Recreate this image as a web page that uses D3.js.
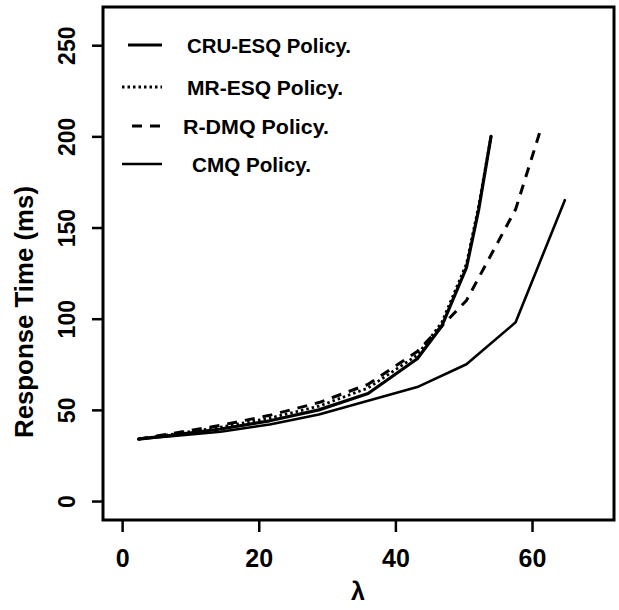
<!DOCTYPE html>
<html><head><meta charset="utf-8">
<script src="https://cdn.jsdelivr.net/npm/d3@7"></script>
<style>body{margin:0;background:#fff}svg{display:block}</style>
</head><body>
<script>
const seriesNames = ["CRU-ESQ Policy.", "MR-ESQ Policy.", "R-DMQ Policy.", "CMQ Policy."];
const cruX = [2.4, 7.2, 14.4, 21.6, 28.8, 36, 43.2, 46.8, 50.4, 52.2, 54];
const cruY = [34, 36, 39.5, 44, 50, 59, 78, 96, 128, 160, 200];
const mrX  = [2.4, 7.2, 14.4, 21.6, 28.8, 36, 43.2, 46.8, 50.4, 52.2, 54];
const mrY  = [34, 36.5, 40.5, 45.5, 52, 62, 80, 98, 130, 162, 200];
const rdX  = [2.4, 7.2, 14.4, 21.6, 28.8, 36, 43.2, 50.4, 57.6, 61.2];
const rdY  = [34, 37, 41.5, 47, 54, 64, 82, 110, 160, 203];
const cmqX = [2.4, 7.2, 14.4, 21.6, 28.8, 36, 43.2, 50.4, 57.6, 64.8];
const cmqY = [34, 35.5, 38, 42, 47.5, 55, 62.5, 75, 98, 165];
const xTicks = [0, 20, 40, 60];
const yTicks = [0, 50, 100, 150, 200, 250];

const W = 619, H = 610;
const svg = d3.select("body").append("svg").attr("width", W).attr("height", H);
const x = d3.scaleLinear().domain([-2.8, 72]).range([103, 614]);
const y = d3.scaleLinear().domain([-10.4, 270.4]).range([520, 8]);

const styles = [
  {w: 3.2, dash: null, cap: "round"},
  {w: 2.8, dash: "2.5 3", cap: "butt"},
  {w: 3.0, dash: "10 8", cap: "butt"},
  {w: 2.6, dash: null, cap: "round"}
];
const series = [[cruX, cruY], [mrX, mrY], [rdX, rdY], [cmqX, cmqY]];
const line = d3.line().x(d => x(d[0])).y(d => y(d[1]));

series.forEach((s, i) => {
  const pts = s[0].map((v, j) => [v, s[1][j]]);
  svg.append("path").attr("d", line(pts)).attr("fill", "none")
    .attr("stroke", "#000").attr("stroke-width", styles[i].w)
    .attr("stroke-dasharray", styles[i].dash).attr("stroke-linecap", styles[i].cap)
    .attr("stroke-linejoin", "round");
});

// frame
svg.append("rect").attr("x", 103).attr("y", 7).attr("width", 511).attr("height", 513)
  .attr("fill", "none").attr("stroke", "#000").attr("stroke-width", 3);

const font = "'Liberation Sans', Arial, sans-serif";
// x axis
const xa = svg.append("g").attr("transform", "translate(0,520)")
  .call(d3.axisBottom(x).tickValues(xTicks).tickSize(12).tickFormat(d3.format("d")));
xa.select(".domain").remove();
xa.selectAll("line").attr("stroke-width", 2.5);
xa.selectAll("text").attr("font-family", font).attr("font-weight", "bold").attr("font-size", 25).attr("fill", "#000")
  .attr("y", 47).attr("dy", 0);

// y axis
const ya = svg.append("g").attr("transform", "translate(103,0)")
  .call(d3.axisLeft(y).tickValues(yTicks).tickSize(11).tickFormat(d3.format("d")));
ya.select(".domain").remove();
ya.selectAll("line").attr("stroke-width", 2.5);
ya.selectAll("text").attr("font-family", font).attr("font-weight", "bold").attr("font-size", 23).attr("fill", "#000")
  .attr("text-anchor", "middle").attr("x", 0).attr("y", 0).attr("dy", 0)
  .attr("transform", "translate(-28,0) rotate(-90)");

// axis titles
svg.append("text").attr("x", 358).attr("y", 600).attr("text-anchor", "middle")
  .attr("font-family", font).attr("font-weight", "bold").attr("font-size", 25).text("λ");
svg.append("text").attr("transform", "translate(33,312) rotate(-90)").attr("text-anchor", "middle")
  .attr("font-family", font).attr("font-weight", "bold").attr("font-size", 25)
  .attr("textLength", 252).attr("lengthAdjust", "spacingAndGlyphs").text("Response Time (ms)");

// legend
const legY = [45, 87, 126, 164];
const legTx = [187, 187, 183, 192];
const legLen = [164, 156, 146, 119];
const legX1 = [128, 122, 132, 122];
seriesNames.forEach((n, i) => {
  svg.append("line").attr("x1", legX1[i]).attr("x2", i === 2 ? 160 : 162).attr("y1", legY[i]).attr("y2", legY[i])
    .attr("stroke", "#000").attr("stroke-width", styles[i].w).attr("stroke-dasharray", styles[i].dash);
  svg.append("text").attr("x", legTx[i]).attr("y", legY[i]).attr("dy", "0.36em")
    .attr("font-family", font).attr("font-weight", "bold").attr("font-size", 21)
    .attr("textLength", legLen[i]).attr("lengthAdjust", "spacingAndGlyphs").text(n);
});
</script>
</body></html>
